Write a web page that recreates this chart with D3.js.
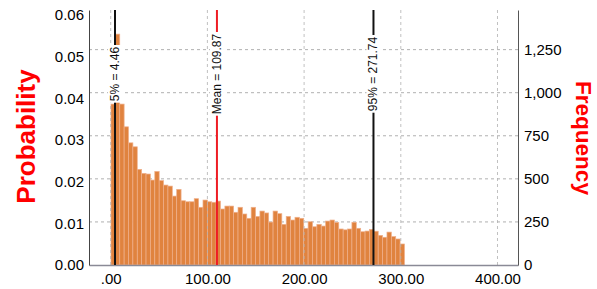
<!DOCTYPE html>
<html>
<head>
<meta charset="utf-8">
<script src="https://cdn.jsdelivr.net/npm/d3@7"></script>
<style>
  html, body { margin: 0; padding: 0; background: #fff; }
  svg { display: block; font-family: "Liberation Sans", Arial, sans-serif; }
</style>
</head>
<body>
<svg id="chart" width="597" height="289"></svg>
<script>
// ---- data ----
const binStart = 0.3;
const binWidth = 4.53;
const freqCounts = [934,1340,934,802,709,686,555,532,528,493,
                    543,490,464,458,400,439,373,367,367,385,
                    335,377,367,364,371,325,342,342,306,335,
                    296,271,335,282,313,302,249,313,298,236,
                    282,261,277,271,213,251,222,236,226,255,
                    261,247,209,204,209,248,213,193,197,207,
                    196,172,161,191,165,151,122];
const trials = 24180;
const markerNames = ["5%", "Mean", "95%"];
const markerValues = [4.46, 109.87, 271.74];
const xTicks = [0, 100, 200, 300, 400];
const freqTicks = [0, 250, 500, 750, 1000, 1250];
const probTicks = [0, 0.01, 0.02, 0.03, 0.04, 0.05, 0.06];
const leftTitle = "Probability";
const rightTitle = "Frequency";

// ---- layout ----
const L = 89, R = 518, T = 10, B = 265;
const freqMax = 1480;
const svg = d3.select("#chart");

const x = d3.scaleLinear().domain([-22.44, 421.2]).range([L, R]);
const yF = d3.scaleLinear().domain([0, freqMax]).range([B, T]);
const yP = d3.scaleLinear().domain([0, freqMax / trials]).range([B, T]);

// horizontal gridlines (behind bars)
svg.append("g").selectAll("line").data(freqTicks.filter(d => d > 0)).join("line")
  .attr("x1", L).attr("x2", R)
  .attr("y1", d => yF(d)).attr("y2", d => yF(d))
  .attr("stroke", "#b0b0b0").attr("stroke-width", 1).attr("stroke-dasharray", "3,3");

// bars
const bins = freqCounts.map((c, i) => ({x0: binStart + i * binWidth, x1: binStart + (i + 1) * binWidth, c}));
svg.append("g").selectAll("rect").data(bins).join("rect")
  .attr("x", d => x(d.x0))
  .attr("width", d => x(d.x1) - x(d.x0))
  .attr("y", d => yF(d.c))
  .attr("height", d => yF(0) - yF(d.c))
  .attr("fill", "#e0833f")
  .attr("stroke", "#efb08c").attr("stroke-width", 0.7);

// vertical gridlines
svg.append("g").selectAll("line").data(xTicks).join("line")
  .attr("x1", d => x(d)).attr("x2", d => x(d))
  .attr("y1", T).attr("y2", B)
  .attr("stroke", "#b0b0b0").attr("stroke-opacity", 0.8).attr("stroke-width", 1).attr("stroke-dasharray", "3,3");

// axes
const fmtX = d => d3.format(".2f")(d).replace(/^0\./, ".");
const gx = svg.append("g").attr("transform", `translate(0,${B})`)
  .call(d3.axisBottom(x).tickValues(xTicks).tickFormat(fmtX).tickSize(0).tickPadding(8));
const gl = svg.append("g").attr("transform", `translate(${L},0)`)
  .call(d3.axisLeft(yP).tickValues(probTicks).tickFormat(d3.format(".2f")).tickSize(0).tickPadding(5));
const gr = svg.append("g").attr("transform", `translate(${R},0)`)
  .call(d3.axisRight(yF).tickValues(freqTicks).tickFormat(d3.format(",")).tickSize(0).tickPadding(6));
[gx, gl, gr].forEach(g => {
  g.selectAll("text").attr("font-size", 15).attr("fill", "#000")
    .attr("font-family", "'Liberation Sans', Arial, sans-serif");
});
gx.select(".domain").attr("stroke", "#8a8a96").attr("stroke-width", 1.6);
gl.select(".domain").attr("stroke", "#444").attr("stroke-width", 1);
gr.select(".domain").attr("stroke", "#555").attr("stroke-width", 1);

// marker lines
const markerColors = ["#111", "#ee1c24", "#111"];
const mg = svg.append("g");
markerValues.forEach((v, i) => {
  mg.append("line")
    .attr("x1", x(v)).attr("x2", x(v)).attr("y1", T).attr("y2", B)
    .attr("stroke", markerColors[i]).attr("stroke-width", 2);
});
markerValues.forEach((v, i) => {
  const g = mg.append("g").attr("transform", `translate(${x(v)},74) rotate(-90)`);
  const rect = g.append("rect").attr("fill", "#fff");
  const t = g.append("text")
    .attr("text-anchor", "middle").attr("dominant-baseline", "central")
    .attr("font-size", 12).attr("fill", "#111")
    .text(`${markerNames[i]} = ${d3.format(".2f")(v)}`);
  const bb = t.node().getBBox();
  rect.attr("x", bb.x - 1.5).attr("y", bb.y).attr("width", bb.width + 3).attr("height", bb.height);
});

// titles
svg.append("text")
  .attr("transform", "translate(34.5,136.5) rotate(-90)")
  .attr("text-anchor", "middle").attr("font-size", 26).attr("font-weight", "bold")
  .attr("fill", "#ff0000").text(leftTitle);
svg.append("text")
  .attr("transform", "translate(575.5,138) rotate(90)")
  .attr("text-anchor", "middle").attr("font-size", 22.5).attr("font-weight", "bold")
  .attr("fill", "#ff0000").text(rightTitle);
</script>
</body>
</html>
